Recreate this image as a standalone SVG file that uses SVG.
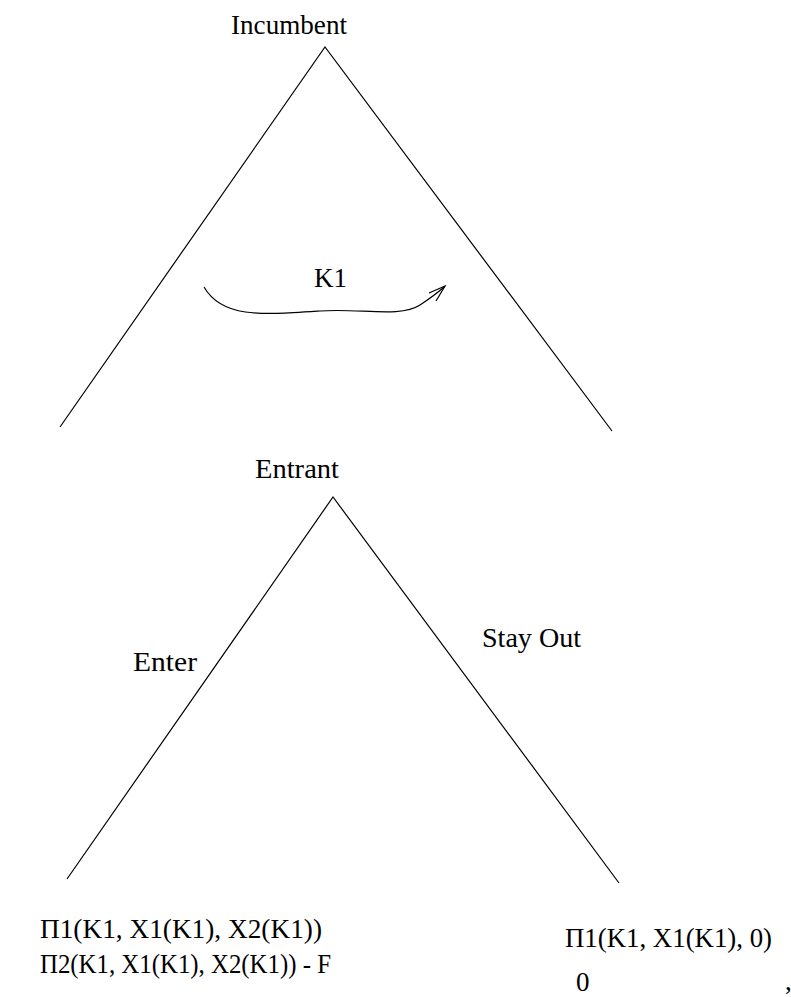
<svg xmlns="http://www.w3.org/2000/svg" width="791" height="997" viewBox="0 0 791 997">
  <style>
    text { font-family: "Liberation Serif", "Times New Roman", serif; font-size: 27px; fill: #000; }
    .edge { fill: none; stroke: #000; stroke-width: 1.2; }
  </style>
  <rect width="791" height="997" fill="#fff"/>

  <!-- game tree branches -->
  <g id="connectors">
    <path class="edge" d="M60,427 L325,47 L612,431"/>
    <path class="edge" d="M67,879 L333,497 L619,883"/>
    <!-- capacity choice sweep -->
    <path class="edge" d="M204,287 C222,318 260,315 320,311 C360,308 400,318 420,305 C432,297 440,291 445,286"/>
    <path class="edge" d="M429,293 L445,286 L436,301"/>
  </g>

  <g id="incumbent">
    <text x="231" y="34" textLength="116" lengthAdjust="spacingAndGlyphs">Incumbent</text>
    <text x="314" y="287">K1</text>
  </g>

  <g id="entrant">
    <text x="255" y="478" textLength="84" lengthAdjust="spacingAndGlyphs">Entrant</text>
    <text x="133" y="671" textLength="64" lengthAdjust="spacingAndGlyphs">Enter</text>
    <text x="482" y="647" textLength="99" lengthAdjust="spacingAndGlyphs">Stay Out</text>
  </g>

  <g id="payoff-enter">
    <text x="40" y="938" textLength="282" lengthAdjust="spacingAndGlyphs">Π1(K1, X1(K1), X2(K1))</text>
    <text x="40" y="973" textLength="291" lengthAdjust="spacingAndGlyphs">Π2(K1, X1(K1), X2(K1)) - F</text>
  </g>

  <g id="payoff-stay-out">
    <text x="565" y="947" textLength="207" lengthAdjust="spacingAndGlyphs">Π1(K1, X1(K1), 0)</text>
    <text x="576" y="991">0</text>
    <text x="785" y="990">,</text>
  </g>
</svg>
